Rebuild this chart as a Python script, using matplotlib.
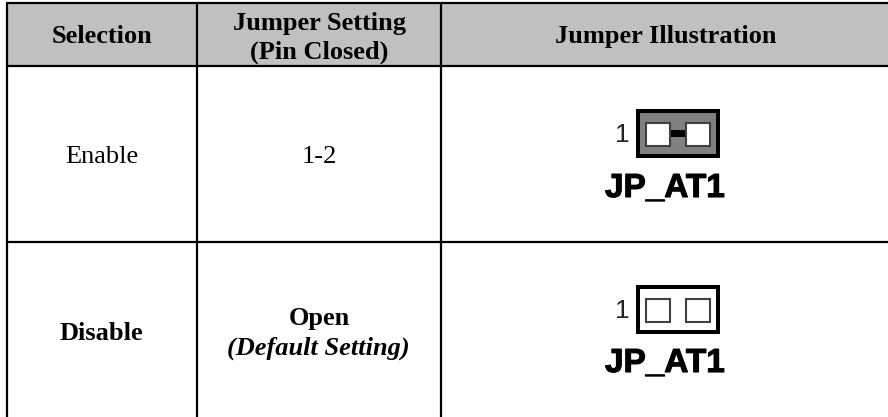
import matplotlib
matplotlib.use('Agg')
import matplotlib.pyplot as plt
import matplotlib.patheffects as pe
from matplotlib.patches import Rectangle

plt.rcParams['font.family'] = 'Liberation Serif'

# columnas y filas de la tabla (pixeles de la imagen)
col_edges = [6.5, 197, 440.5, 888]
row_edges = [3, 66, 242, 417]
header_simple = ['Selection', 'Jumper Illustration']
header_setting = ['Jumper Setting', '(Pin Closed)']
selections = ['Enable', 'Disable']
settings = ['1-2', 'Open']
default_note = '(Default Setting)'
jumper_name = 'JP_AT1'

fig = plt.figure(figsize=(8.88, 4.17), dpi=100)
ax = fig.add_axes([0, 0, 1, 1])
ax.set_xlim(0, 888)
ax.set_ylim(417, 0)
ax.axis('off')

# Encabezado gris
ax.add_patch(Rectangle((col_edges[0], row_edges[0]), col_edges[-1] - col_edges[0], row_edges[1] - row_edges[0],
                       facecolor='#c0c0c0', edgecolor='none'))

# Lineas
for x in col_edges[:3]:
    ax.plot([x, x], [row_edges[0], row_edges[-1]], color='black', lw=1.6, solid_capstyle='butt')
for y in row_edges[:3]:
    ax.plot([col_edges[0] - 1, col_edges[-1]], [y, y], color='black', lw=1.6, solid_capstyle='butt')

# Texto
cx = [(col_edges[i] + col_edges[i + 1]) / 2 for i in range(3)]
fs = 19
ax.text(cx[0], 43, header_simple[0], ha='center', va='baseline', fontsize=fs, fontweight='bold')
ax.text(319, 30, header_setting[0], ha='center', va='baseline', fontsize=fs, fontweight='bold')
ax.text(319, 59, header_setting[1], ha='center', va='baseline', fontsize=fs, fontweight='bold')
ax.text(666, 43, header_simple[1], ha='center', va='baseline', fontsize=fs, fontweight='bold')

ax.text(cx[0], 163, selections[0], ha='center', va='baseline', fontsize=fs)
ax.text(319, 163, settings[0], ha='center', va='baseline', fontsize=fs)
ax.text(cx[0], 340, selections[1], ha='center', va='baseline', fontsize=fs, fontweight='bold')
ax.text(319, 325, settings[1], ha='center', va='baseline', fontsize=fs, fontweight='bold')
ax.text(318, 355, default_note, ha='center', va='baseline', fontsize=fs, fontweight='bold', style='italic')


def jumper(y0, closed):
    # marco exterior
    face = '#808080' if closed else 'white'
    ax.add_patch(Rectangle((638, y0), 80, 45, facecolor=face, edgecolor='black', lw=2.9))
    for x0 in [646, 686]:
        ax.add_patch(Rectangle((x0, y0 + 12), 24, 23, facecolor='white', edgecolor='#404040', lw=1.5))
    if closed:
        ax.add_patch(Rectangle((671, y0 + 19), 14, 7, facecolor='black', edgecolor='none'))
    ax.text(622, y0 + 31, '1', ha='center', va='baseline', fontsize=19, family='Liberation Sans', color='#222222')


jumper(111, True)
jumper(287, False)
for base in [197, 372]:
    ax.text(665, base, jumper_name, ha='center', va='baseline', fontsize=24, fontweight='bold',
            family='Liberation Sans', path_effects=[pe.withStroke(linewidth=0.8, foreground='black')])

fig.savefig('out.png', dpi=100)
